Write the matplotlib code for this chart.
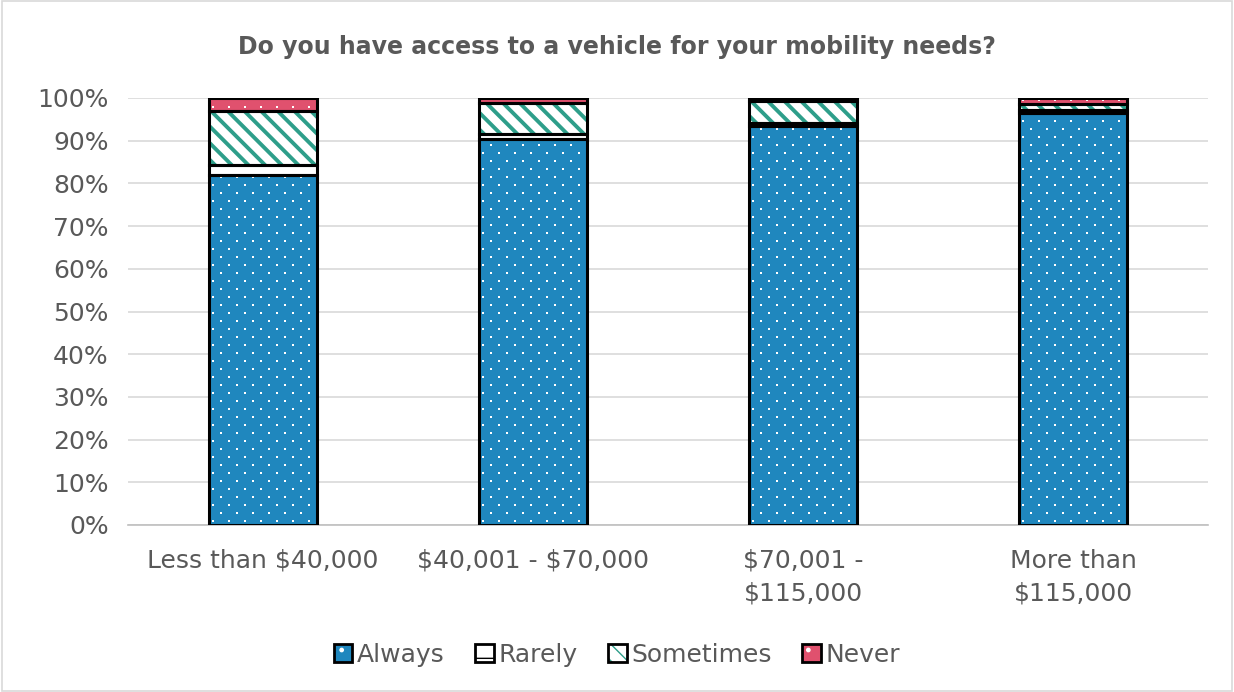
import numpy as np
import matplotlib as mpl
import matplotlib.pyplot as plt
from matplotlib.patches import Patch, Rectangle
from matplotlib.legend_handler import HandlerTuple

categories = ["Less than \\$40,000", "\\$40,001 - \\$70,000", "\\$70,001 -\n\\$115,000", "More than\n\\$115,000"]
always = [82.0, 90.5, 93.5, 96.5]
rarely = [2.3, 1.0, 0.7, 0.8]
sometimes = [12.7, 7.3, 5.2, 1.4]
never = [3.0, 1.2, 0.6, 1.3]
yticks = np.arange(0, 101, 10)

blue = '#1F87BE'
teal = '#2E9E8A'
pink = '#E0516E'
grey_txt = '#595959'

plt.rcParams['font.family'] = ['DejaVu Sans']

W, H = 1234, 692
fig = plt.figure(figsize=(W / 100, H / 100), dpi=100)
ax_box = [128 / W, 1 - 525 / H, 1080 / W, 427 / H]
ax = fig.add_axes(ax_box)

x = np.arange(len(categories))
w = 0.4
ax.set_xlim(-0.5, 3.5)
ax.set_ylim(0, 100)
px_x = ax_box[2] * W / 4.0     # pixels per category
px_y = ax_box[3] * H / 100.0   # pixels per percent


def dot_fill(rects):
    # staggered white dot texture, clipped to each bar segment
    for r in rects:
        x0, y0 = r.get_x(), r.get_y()
        bw, bh = r.get_width(), r.get_height()
        dx, dy = 16 / px_x, 8 / px_y
        pts = []
        for j, yy in enumerate(np.arange(y0 + dy / 2, y0 + bh, dy)):
            off = dx / 2 if j % 2 else 0
            for xx in np.arange(x0 + dx / 4 + off, x0 + bw, dx):
                pts.append((xx, yy))
        if not pts:
            continue
        pts = np.array(pts)
        sc = ax.scatter(pts[:, 0], pts[:, 1], s=2.6, marker='s', color='white',
                        linewidths=0, zorder=2.5)
        sc.set_clip_path(r)


bottom = np.zeros(len(categories))
layers = [(always, blue, None, 'dots'),
          (rarely, 'white', None, None),
          (sometimes, 'white', '\\\\', None),
          (never, pink, None, 'dots')]
for vals, fc, hatch, tex in layers:
    with mpl.rc_context({'hatch.linewidth': 2.8}):
        bars = ax.bar(x, vals, w, bottom=bottom, color=fc, hatch=hatch,
                      edgecolor=teal if hatch else fc, linewidth=0, zorder=2)
    if tex == 'dots':
        dot_fill(bars.patches)
    ax.bar(x, vals, w, bottom=bottom, fill=False, edgecolor='black',
           linewidth=2.2, zorder=3)
    bottom += np.array(vals)

ax.set_yticks(yticks)
ax.set_yticklabels([f"{v}%" for v in yticks])
ax.set_xticks(x)
ax.set_xticklabels(categories, linespacing=1.45)
ax.tick_params(axis='both', length=0, labelsize=18, colors=grey_txt)
ax.tick_params(axis='x', pad=17)
ax.tick_params(axis='y', pad=14)
ax.grid(axis='y', color='#D9D9D9', linewidth=1.2, zorder=0)
ax.set_axisbelow(True)
for s in ['top', 'right', 'left']:
    ax.spines[s].set_visible(False)
ax.spines['bottom'].set_color('#BFBFBF')
ax.spines['bottom'].set_linewidth(1.2)

fig.text(0.5, 1 - 47 / H, "Do you have access to a vehicle for your mobility needs?",
         ha='center', va='center', fontsize=17, fontweight='bold', color=grey_txt)


def legend_handle(fc, hatch, hc, hlw):
    with mpl.rc_context({'hatch.linewidth': hlw}):
        fill = Patch(facecolor=fc, edgecolor=hc, hatch=hatch, linewidth=0)
    edge = Patch(fill=False, edgecolor='black', linewidth=2)
    return (fill, edge)


handles = [legend_handle(blue, '.', 'white', 0.8),
           legend_handle('white', '-', 'black', 3.0),
           legend_handle('white', '\\\\', teal, 2.6),
           legend_handle(pink, '.', 'white', 0.8)]
labels = ["Always", "Rarely", "Sometimes", "Never"]
fig.legend(handles, labels, loc='center', bbox_to_anchor=(0.5, 1 - 655 / H),
           ncol=4, frameon=False, fontsize=18, labelcolor=grey_txt,
           handler_map={tuple: HandlerTuple(ndivide=1, pad=0)},
           handlelength=0.75, handleheight=0.75, handletextpad=0.2, columnspacing=1.2)

fig.add_artist(Rectangle((0.002, 0.002), 0.996, 0.996, transform=fig.transFigure,
                         fill=False, edgecolor='#D9D9D9', linewidth=1.2))

fig.savefig('out.png', dpi=100)
